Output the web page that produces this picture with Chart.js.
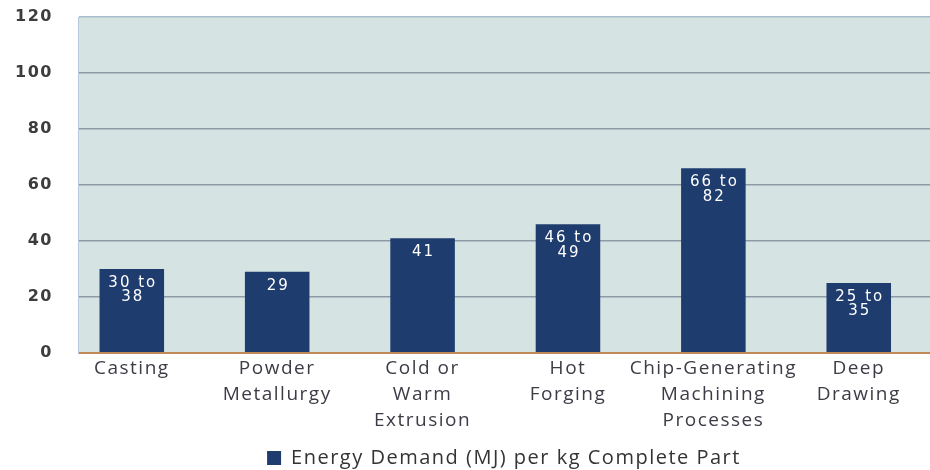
<!DOCTYPE html>
<html>
<head>
<meta charset="utf-8">
<script src="https://cdn.jsdelivr.net/npm/chart.js@4/dist/chart.umd.min.js"></script>
<style>
  html, body { margin: 0; padding: 0; background: #ffffff; }
  #wrap { width: 930px; height: 470px; }
</style>
</head>
<body>
<div id="wrap"><canvas id="c" width="930" height="470"></canvas></div>
<script>
// Process categories (one entry per bar, split into label lines)
const categories = [
  ['Casting'],
  ['Powder', 'Metallurgy'],
  ['Cold or', 'Warm', 'Extrusion'],
  ['Hot', 'Forging'],
  ['Chip-Generating', 'Machining', 'Processes'],
  ['Deep', 'Drawing']
];
// Energy demand in MJ per kg: lower bound (bar height) and upper bound of the range
const lowValues = [30, 29, 41, 46, 66, 25];
const highValues = [38, null, null, 49, 82, 35];
const yTicks = [0, 20, 40, 60, 80, 100, 120];
const seriesName = 'Energy Demand (MJ) per kg Complete Part';

const NAVY = '#1f3c6e';

const textSpacing = {
  id: 'textSpacing',
  beforeLayout(chart) { chart.ctx.letterSpacing = '1.5px'; },
  beforeDraw(chart) {
    const { ctx, chartArea: a } = chart;
    ctx.letterSpacing = '1.5px';
    ctx.save();
    ctx.fillStyle = '#d5e4e3';
    ctx.fillRect(a.left, a.top, a.right - a.left, a.bottom - a.top);
    ctx.restore();
  }
};

const rangeLabels = {
  id: 'rangeLabels',
  afterDatasetsDraw(chart) {
    const { ctx } = chart;
    const meta = chart.getDatasetMeta(0);
    ctx.save();
    ctx.letterSpacing = '2px';
    ctx.font = '15px "DejaVu Sans"';
    ctx.fillStyle = '#ffffff';
    ctx.textAlign = 'center';
    ctx.textBaseline = 'middle';
    meta.data.forEach((bar, i) => {
      const lines = highValues[i] == null
        ? [String(lowValues[i])]
        : [lowValues[i] + ' to', String(highValues[i])];
      lines.forEach((t, k) => ctx.fillText(t, bar.x + 1, bar.y + 14 + k * 14.5));
    });
    ctx.restore();
  }
};

new Chart(document.getElementById('c'), {
  type: 'bar',
  data: {
    datasets: [{
      label: seriesName,
      data: lowValues.map((v, i) => ({ x: i, y: v })),
      backgroundColor: NAVY,
      borderWidth: 0,
      categoryPercentage: 1,
      barPercentage: 0.444
    }]
  },
  options: {
    responsive: false,
    animation: false,
    devicePixelRatio: 1,
    layout: { autoPadding: false, padding: { top: 17, right: 0, bottom: -8, left: 0 } },
    plugins: {
      tooltip: { enabled: false },
      legend: {
        position: 'bottom',
        fullSize: false,
        labels: {
          boxWidth: 14,
          boxHeight: 14,
          padding: 0,
          color: '#333333',
          font: { family: '"Open Sans"', size: 20 }
        }
      }
    },
    scales: {
      x: {
        type: 'linear',
        offset: false,
        min: -0.37,
        max: 5.49,
        afterBuildTicks: s => { s.ticks = categories.map((c, i) => ({ value: i })); },
        afterFit: s => { s.height = 95; },
        grid: { display: false },
        border: { display: false },
        ticks: {
          autoSkip: false,
          maxRotation: 0,
          padding: -5,
          color: '#3d3b45',
          font: { family: '"Open Sans"', size: 19, lineHeight: 1.35 },
          callback: v => categories[v]
        }
      },
      y: {
        min: 0,
        max: 120,
        afterBuildTicks: s => { s.ticks = yTicks.map(v => ({ value: v })); },
        afterFit: s => { s.width = 78; s.paddingTop = 0; s.paddingBottom = 0; },
        border: { color: '#b7c9da', width: 1 },
        grid: {
          drawTicks: false,
          color: c => c.tick.value === 0 ? '#c08a58' : (c.tick.value === 120 ? '#a9bccd' : '#8d9ba6'),
          lineWidth: c => c.tick.value === 0 ? 2 : 1.5
        },
        ticks: {
          padding: 25,
          color: '#3c3c3c',
          font: { family: '"DejaVu Sans"', size: 16, weight: 'bold' }
        }
      }
    }
  },
  plugins: [textSpacing, rangeLabels]
});
</script>
</body>
</html>
